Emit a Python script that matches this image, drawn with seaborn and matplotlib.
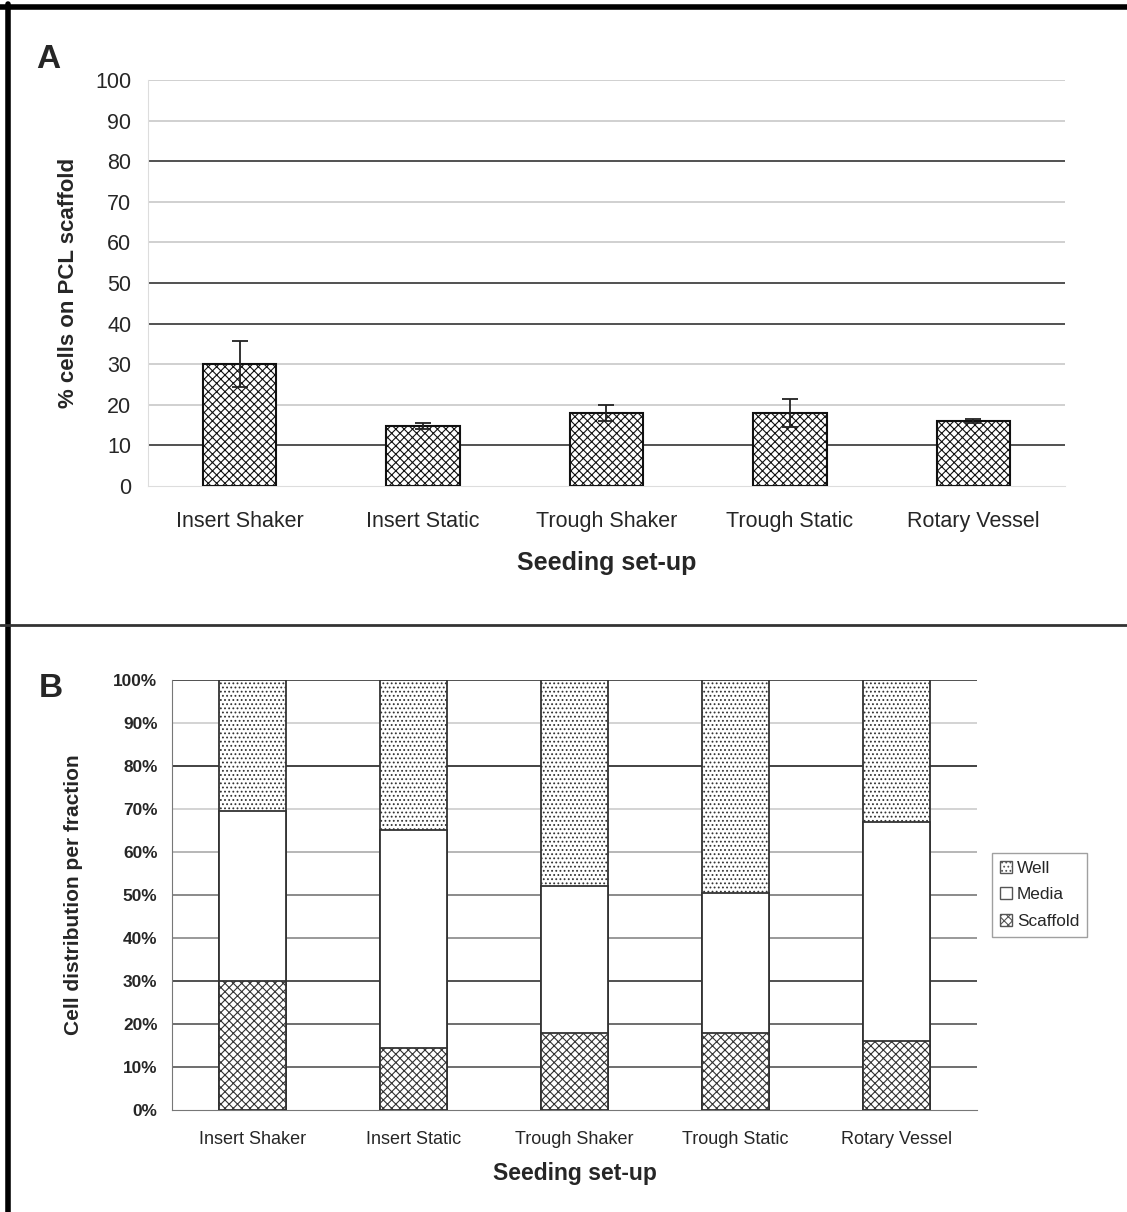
import numpy as np
import pandas as pd
import matplotlib
matplotlib.use("Agg")
import matplotlib.pyplot as plt
from matplotlib.lines import Line2D
from matplotlib.patches import Patch
import seaborn as sns

# data
setups = ["Insert Shaker", "Insert Static", "Trough Shaker", "Trough Static", "Rotary Vessel"]
scaffold_pct = [30.0, 14.8, 18.0, 18.0, 16.0]
scaffold_err = [5.7, 0.7, 2.0, 3.4, 0.5]

scaffold_frac = [30.0, 14.5, 18.0, 18.0, 16.0]
media_frac = [39.5, 50.5, 34.0, 32.5, 51.0]
well_frac = [30.5, 35.0, 48.0, 49.5, 33.0]

sns.set_style("white")
plt.rcParams["font.family"] = ["Liberation Sans", "DejaVu Sans"]
plt.rcParams["hatch.linewidth"] = 0.8

fig = plt.figure(figsize=(11.27, 12.12), dpi=100)

# ---------------- Panel A ----------------
df_a = pd.DataFrame({"setup": setups, "pct": scaffold_pct, "err": scaffold_err})
ax1 = fig.add_axes([0.1313, 0.599, 0.8137, 0.335])
sns.barplot(data=df_a, x="setup", y="pct", color="white", edgecolor="#111111",
            linewidth=1.5, width=0.4, hatch="xxxx", ax=ax1, zorder=3)
ax1.errorbar(np.arange(len(setups)), df_a["pct"], yerr=df_a["err"], fmt="none",
             ecolor="#222222", elinewidth=1.3, capsize=6, capthick=1.3, zorder=4)
ax1.set_ylim(0, 100)
ax1.set_xlim(-0.5, 4.5)
ax1.set_yticks(range(0, 101, 10))
ax1.tick_params(axis="y", labelsize=15.5, length=0, pad=12)
ax1.tick_params(axis="x", labelsize=15.5, length=0, pad=18)
ax1.set_xticks(np.arange(5) + 0.5, minor=True)
ax1.tick_params(axis="x", which="minor", length=5, color="#555555", direction="out")
dark_a = {10, 40, 50, 80}
for v in range(10, 101, 10):
    ax1.axhline(v, color="#333333" if v in dark_a else "#c8c8c8", lw=1.2, zorder=1)
ax1.set_xlabel("Seeding set-up", fontsize=18, fontweight="bold", labelpad=14)
ax1.set_ylabel("% cells on PCL scaffold", fontsize=16, fontweight="bold", labelpad=12)
for s in ["top", "right"]:
    ax1.spines[s].set_visible(False)
ax1.spines["left"].set_color("#dddddd")
ax1.spines["bottom"].set_color("#dddddd")

# ---------------- Panel B ----------------
df_b = pd.DataFrame({"setup": setups, "scaffold": scaffold_frac,
                     "media": media_frac, "well": well_frac})
df_b["media_top"] = df_b["scaffold"] + df_b["media"]
df_b["well_top"] = df_b["media_top"] + df_b["well"]

ax2 = fig.add_axes([0.1526, 0.0842, 0.7143, 0.3548])
sns.barplot(data=df_b, x="setup", y="well_top", color="white", edgecolor="#333333",
            linewidth=1.3, width=0.42, hatch="....", ax=ax2, zorder=3)
sns.barplot(data=df_b, x="setup", y="media_top", color="white", edgecolor="#333333",
            linewidth=1.3, width=0.42, ax=ax2, zorder=3)
sns.barplot(data=df_b, x="setup", y="scaffold", color="white", edgecolor="#333333",
            linewidth=1.3, width=0.42, hatch="xxxx", ax=ax2, zorder=3)
ax2.set_ylim(0, 100)
ax2.set_xlim(-0.5, 4.5)
ax2.set_yticks(range(0, 101, 10))
ax2.set_yticklabels([f"{v}%" for v in range(0, 101, 10)], fontweight="bold")
ax2.tick_params(axis="y", labelsize=12.4, length=4.5, color="#555555", direction="out", pad=6)
ax2.tick_params(axis="x", labelsize=13, length=0, pad=15)
ax2.set_xticks(np.arange(5) + 0.5, minor=True)
ax2.tick_params(axis="x", which="minor", length=5, color="#555555", direction="out")
grid_b = {100: "#333333", 90: "#cccccc", 80: "#222222", 70: "#cccccc", 60: "#aaaaaa",
          50: "#777777", 40: "#888888", 30: "#333333", 20: "#555555", 10: "#555555"}
for v, c in grid_b.items():
    ax2.axhline(v, color=c, lw=1.2, zorder=1)
ax2.set_xlabel("Seeding set-up", fontsize=16.5, fontweight="bold", labelpad=10)
ax2.set_ylabel("Cell distribution per fraction", fontsize=15, fontweight="bold", labelpad=22)
for s in ["top", "right"]:
    ax2.spines[s].set_visible(False)
ax2.spines["left"].set_color("#777777")
ax2.spines["bottom"].set_color("#777777")

handles = [Patch(facecolor="white", edgecolor="#555555", hatch="....", label="Well"),
           Patch(facecolor="white", edgecolor="#555555", label="Media"),
           Patch(facecolor="white", edgecolor="#555555", hatch="xxxx", label="Scaffold")]
leg = ax2.legend(handles=handles, loc="center left", bbox_to_anchor=(1.008, 0.5),
                 frameon=True, fontsize=12.4, handlelength=0.7, handleheight=0.7,
                 handletextpad=0.3, labelspacing=0.68, borderpad=0.45, fancybox=False)
leg.get_frame().set_edgecolor("#888888")

# panel letters and frame
fig.text(0.032, 0.944, "A", fontsize=24, fontweight="bold")
fig.text(0.034, 0.425, "B", fontsize=24, fontweight="bold")
fig.add_artist(Line2D([0.0, 1.0], [1 - 6.5 / 1212] * 2, color="black", lw=4))
fig.add_artist(Line2D([7.5 / 1127] * 2, [0.0, 1 - 4 / 1212], color="black", lw=4))
fig.add_artist(Line2D([0.0, 1.0], [1 - 624.5 / 1212] * 2, color="#333333", lw=2))

fig.savefig("out.png", dpi=100, facecolor="white")
